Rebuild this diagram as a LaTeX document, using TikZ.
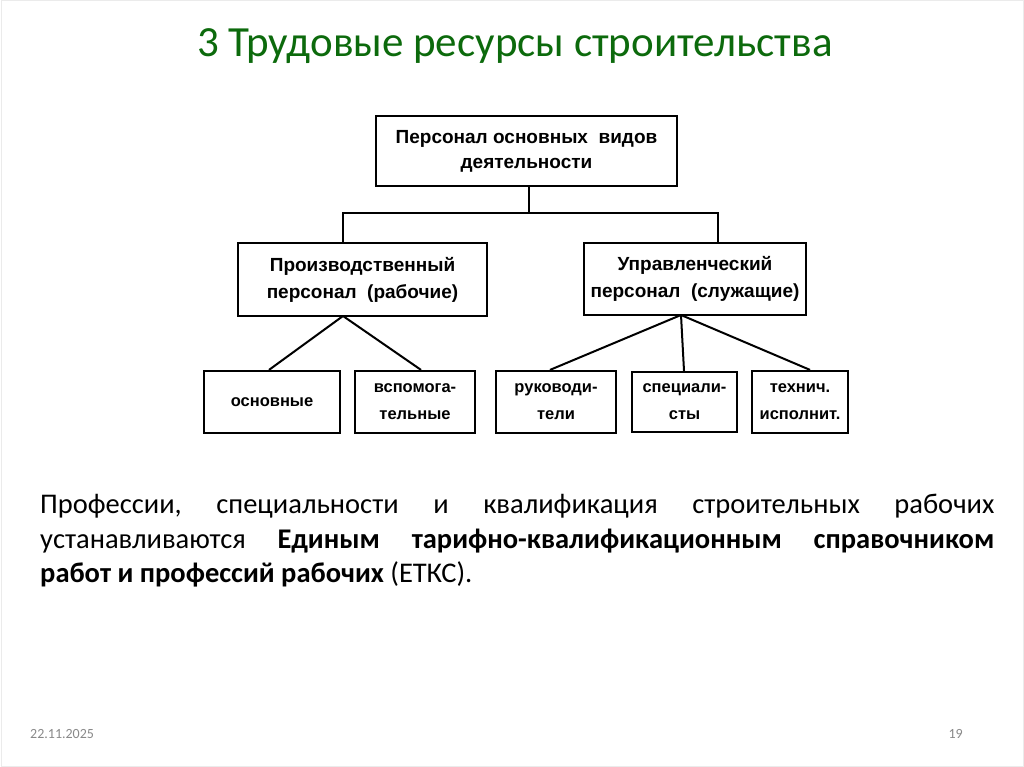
\documentclass[tikz,border=0pt]{standalone}
\usepackage{fontspec}
\setmainfont{Carlito}
\newfontfamily\diafont{Liberation Sans}
\definecolor{titlegreen}{RGB}{12,106,12}
\definecolor{footgray}{RGB}{137,137,137}
\definecolor{framegray}{RGB}{235,235,235}
\begin{document}
\begin{tikzpicture}[x=1pt,y=-1pt,
  box/.style={draw,line width=2.2pt,inner sep=0pt,align=center},
  bigbox/.style={box,font=\diafont\bfseries\fontsize{19}{27}\selectfont},
  smallbox/.style={box,font=\diafont\bfseries\fontsize{16.5}{27}\selectfont},
  link/.style={line width=2pt}]
\useasboundingbox (0,0) rectangle (1024,767);
\fill[white] (0,0) rectangle (1024,767);
\draw[framegray,line width=1pt] (1,1) rectangle (1023,766);
\node[font=\fontsize{43}{50}\selectfont,text=titlegreen] (title) at (515,46) {3 Трудовые ресурсы строительства};
% boxes
\node[bigbox,minimum width=301pt,minimum height=70pt,font=\diafont\bfseries\fontsize{19}{25}\selectfont] (top) at (526.5,151) {Персонал основных\ \ видов\\деятельности};
\node[bigbox,minimum width=249pt,minimum height=73pt] (prod) at (362.5,279.5) {Производственный\\персонал\ \ (рабочие)};
\node[bigbox,minimum width=222pt,minimum height=72pt] (upr) at (695,279) {Управленческий\\персонал\ \ (служащие)};
\node[smallbox,minimum width=136pt,minimum height=62pt] (osn) at (272,402) {основные};
\node[smallbox,minimum width=120pt,minimum height=62pt] (vsp) at (415,402) {вспомога-\\тельные};
\node[smallbox,minimum width=120pt,minimum height=62pt] (ruk) at (556,402) {руководи-\\тели};
\node[smallbox,minimum width=105pt,minimum height=60pt] (spec) at (684.5,402) {специали-\\сты};
\node[smallbox,minimum width=96pt,minimum height=62pt] (tech) at (800,402) {технич.\\исполнит.};
% connectors
\coordinate (hub) at (529,213);
\draw[link] (top.south -| hub) -- (hub);
\draw[link] (prod.north -| 343,0) |- (hub) -| (upr.north -| 718,0);
\coordinate (pa) at (343,316);
\coordinate (ua) at (681,315);
\draw[link] (pa) -- (osn.north -| 269,0);
\draw[link] (pa) -- (vsp.north -| 421,0);
\draw[link] (ua) -- (ruk.north -| 550,0);
\draw[link] (ua) -- (spec.north -| 684,0);
\draw[link] (ua) -- (tech.north -| 810,0);
% paragraph
\node[anchor=north west,inner sep=0pt,text width=954pt,align=justify,font=\fontsize{28.5}{34.5}\selectfont] (para) at (40,494)
 {\frenchspacing\hyphenpenalty=10000 Профессии, специальности и квалификация строительных рабочих\linebreak устанавливаются \textbf{Единым тарифно-квалификационным справочником}\linebreak \textbf{работ и профессий рабочих} (ЕТКС).};
% footer
\node[anchor=west,inner sep=0pt,text=footgray,font=\fontsize{14}{16}\selectfont] (date) at (30,734) {22.11.2025};
\node[anchor=east,inner sep=0pt,text=footgray,font=\fontsize{14}{16}\selectfont] (num) at (963,734) {19};
\end{tikzpicture}
\end{document}
